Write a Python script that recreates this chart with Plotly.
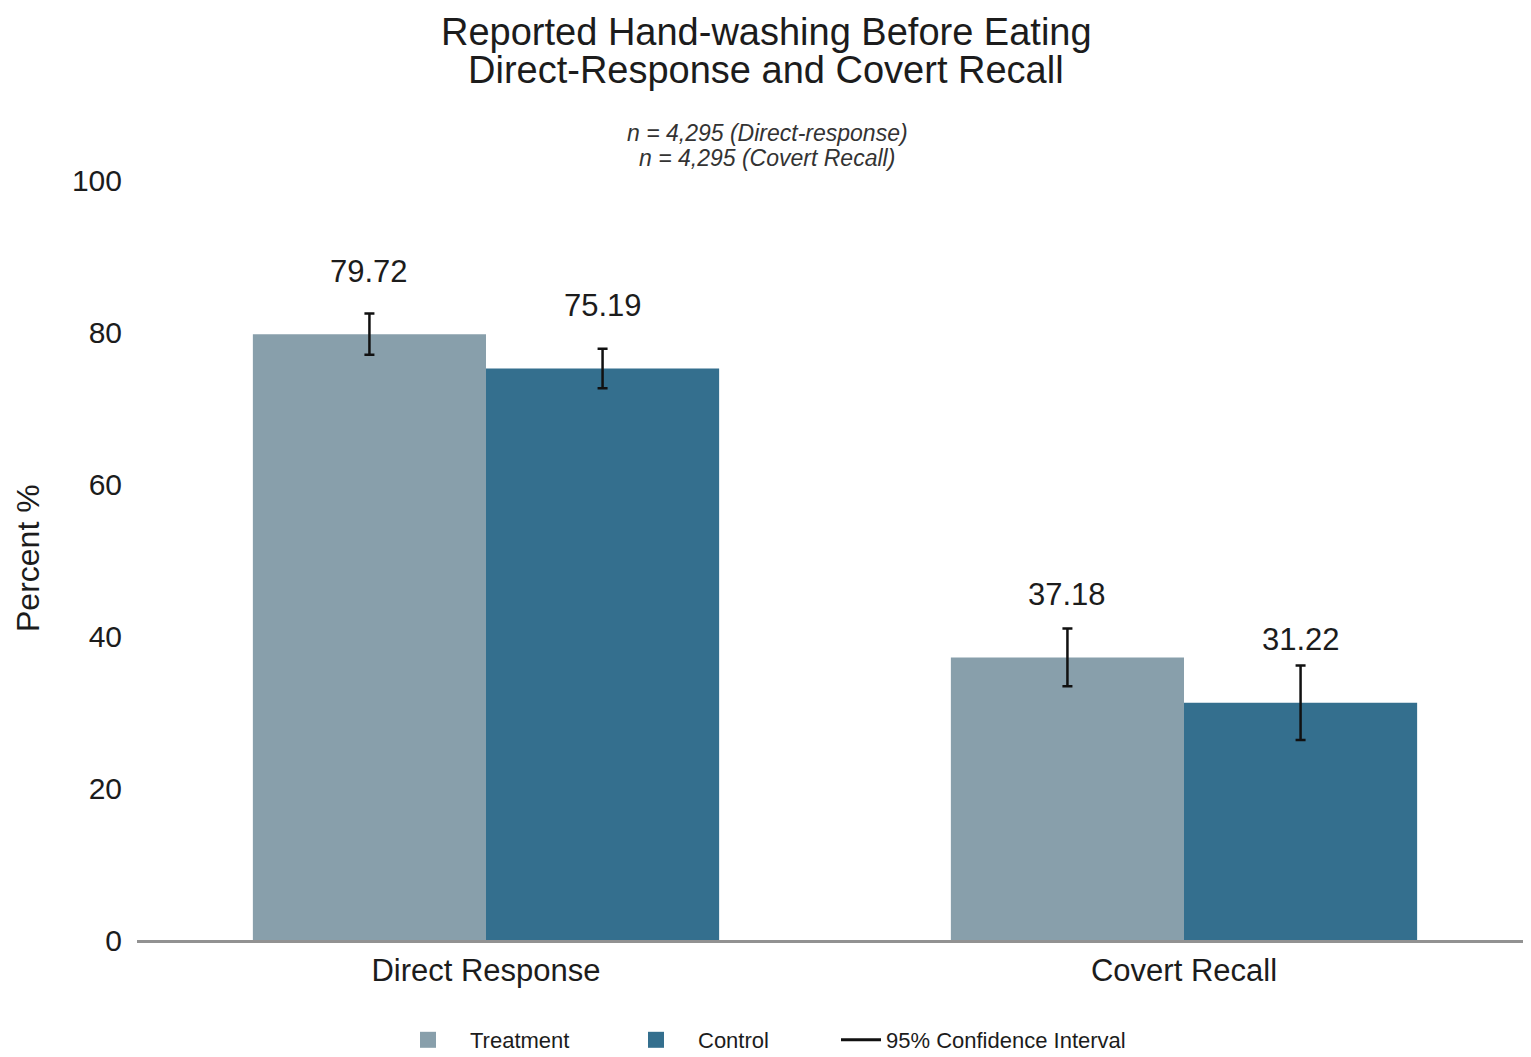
import plotly.graph_objects as go

categories = ["Direct Response", "Covert Recall"]
treatment = [79.72, 37.18]
control = [75.19, 31.22]
treatment_ci = [2.7, 3.8]
control_ci = [2.6, 4.9]
y_ticks = [0, 20, 40, 60, 80, 100]

C_TREAT = "#889fab"
C_CTRL = "#346f8e"
FONT = "Liberation Sans, Arial, sans-serif"
TXT = "#1c1c1c"

# page body has an 8px margin; the figure ends exactly at the window edges
OFF = 8
W, H = 1531 - OFF, 1057 - OFF
L, T = 137 - OFF, 180 - OFF
B = H - (940 - OFF)
PW, PH = W - L, H - T - B
CAT_STEP = 698.0  # pixels between category centres in the reference
x_right = -0.5 + PW / CAT_STEP


def px_x(x):
    return (x - OFF - L) / PW


def px_y(y):
    return (H - B - (y - OFF)) / PH


def cx(x):
    return (x - OFF) / W


def cy(y):
    return (H - (y - OFF)) / H


bargap = 0.332
bar_w = (1 - bargap) / 2

fig = go.Figure()
fig.add_trace(go.Bar(
    x=categories, y=treatment, name="Treatment", marker_color=C_TREAT,
    marker_line_width=0, showlegend=False,
    error_y=dict(type="data", array=treatment_ci, color="#111111", thickness=2.5, width=5),
))
fig.add_trace(go.Bar(
    x=categories, y=control, name="Control", marker_color=C_CTRL,
    marker_line_width=0, showlegend=False,
    error_y=dict(type="data", array=control_ci, color="#111111", thickness=2.5, width=5),
))

# legend-only traces
fig.add_trace(go.Scatter(x=[None], y=[None], mode="markers", name="Treatment", legend="legend",
                         marker=dict(symbol="square", size=20, color=C_TREAT)))
fig.add_trace(go.Scatter(x=[None], y=[None], mode="markers", name="Control", legend="legend2",
                         marker=dict(symbol="square", size=20, color=C_CTRL)))
fig.add_trace(go.Scatter(x=[None], y=[None], mode="lines", name="95% Confidence Interval",
                         legend="legend3", line=dict(color="#111111", width=3)))

annotations = []
for i, cat in enumerate(categories):
    for vals, off in ((treatment, -bar_w / 2), (control, bar_w / 2)):
        annotations.append(dict(
            x=i + off, y=vals[i], xref="x", yref="y", text=f"{vals[i]:.2f}",
            showarrow=False, yanchor="middle", yshift=63,
            font=dict(size=31, color=TXT, family=FONT),
        ))

annotations += [
    dict(text="Reported Hand-washing Before Eating", xref="paper", yref="paper",
         x=px_x(766), y=px_y(32), xanchor="center", yanchor="middle",
         showarrow=False, font=dict(size=38, color=TXT, family=FONT)),
    dict(text="Direct-Response and Covert Recall", xref="paper", yref="paper",
         x=px_x(766), y=px_y(70), xanchor="center", yanchor="middle",
         showarrow=False, font=dict(size=38, color=TXT, family=FONT)),
    dict(text="<i>n = 4,295 (Direct-response)</i>", xref="paper", yref="paper",
         x=px_x(767), y=px_y(133), xanchor="center", yanchor="middle",
         showarrow=False, font=dict(size=23, color="#333333", family=FONT)),
    dict(text="<i>n = 4,295 (Covert Recall)</i>", xref="paper", yref="paper",
         x=px_x(767), y=px_y(158), xanchor="center", yanchor="middle",
         showarrow=False, font=dict(size=23, color="#333333", family=FONT)),
    dict(text="Percent %", xref="paper", yref="paper", textangle=-90,
         x=px_x(28), y=px_y(558), xanchor="center", yanchor="middle",
         showarrow=False, font=dict(size=32, color=TXT, family=FONT)),
]

leg_common = dict(orientation="h", xref="container", yref="container", xanchor="left",
                  yanchor="middle", font=dict(size=22, color=TXT, family=FONT),
                  bgcolor="rgba(0,0,0,0)", borderwidth=0)
ly = cy(1040)

fig.update_layout(
    width=W, height=H,
    margin=dict(l=L, r=0, t=T, b=B),
    paper_bgcolor="white", plot_bgcolor="white",
    barmode="group", bargap=bargap, bargroupgap=0,
    font=dict(family=FONT, color=TXT),
    annotations=annotations,
    showlegend=True,
    legend=dict(leg_common, x=cx(386), y=ly, itemwidth=74),
    legend2=dict(leg_common, x=cx(614), y=ly, itemwidth=74),
    legend3=dict(leg_common, x=cx(836), y=ly, itemwidth=40),
    xaxis=dict(range=[-0.5, x_right], showline=True, linecolor="#929292", linewidth=2.5,
               showgrid=False, zeroline=False, ticks="", tickfont=dict(size=31, color=TXT),
               ticklabelstandoff=1),
    yaxis=dict(range=[0, 100], tickvals=y_ticks, showgrid=False, zeroline=False,
               showline=False, ticks="", tickfont=dict(size=30, color=TXT),
               ticklabelstandoff=14),
)

fig.write_html("out.html")
